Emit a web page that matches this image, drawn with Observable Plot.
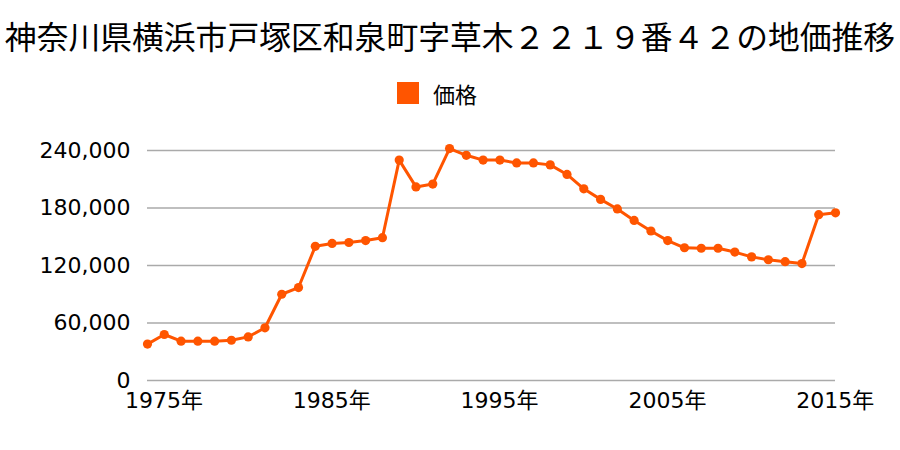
<!DOCTYPE html>
<html>
<head>
<meta charset="utf-8">
<script src="https://cdn.jsdelivr.net/npm/d3@7"></script>
<script src="https://cdn.jsdelivr.net/npm/@observablehq/plot@0.6"></script>
<style>
  body { margin: 0; background: #fff; width: 900px; height: 450px; position: relative; overflow: hidden; }
  #title { position: absolute; top: 0; left: 0; width: 900px; text-align: center;
           font-family: "Noto Sans CJK JP"; font-size: 31.8px; line-height: 70px; color: #000; white-space: nowrap; }
  #legend { position: absolute; top: 81px; left: 397px; display: flex; align-items: center;
            font-family: "Noto Sans CJK JP"; font-size: 22px; color: #000; height: 23px; }
  #legend .sw { width: 22px; height: 22px; background: #ff5500; margin-right: 14px; }
  #chart { position: absolute; left: 0; top: 120px; }
</style>
</head>
<body>
<div id="title">神奈川県横浜市戸塚区和泉町字草木２２１９番４２の地価推移</div>
<div id="legend"><span class="sw"></span><span>価格</span></div>
<div id="chart"></div>
<script>
const years = [1975, 1976, 1977, 1978, 1979, 1980, 1981, 1982, 1983, 1984,
               1985, 1986, 1987, 1988, 1989, 1990, 1991, 1992, 1993, 1994,
               1995, 1996, 1997, 1998, 1999, 2000, 2001, 2002, 2003, 2004,
               2005, 2006, 2007, 2008, 2009, 2010, 2011, 2012, 2013, 2014,
               2015, 2016];
const prices = [38000, 48000, 41000, 41000, 41000, 42000, 45500, 55000, 90000, 97000,
                140000, 143000, 144000, 146000, 149000, 230000, 202000, 205000, 242000, 235000,
                230000, 230000, 227000, 227000, 225000, 215000, 200000, 189000, 179000, 167000,
                156000, 146000, 138500, 138000, 138000, 134000, 129000, 126000, 124000, 122000,
                173000, 175000];
const xTicks = [1975, 1985, 1995, 2005, 2015];
const xTickLabels = ["1975年", "1985年", "1995年", "2005年", "2015年"];
const yTicks = [0, 60000, 120000, 180000, 240000];
const seriesName = "価格";

const data = years.map((y, i) => ({year: y, price: prices[i], series: seriesName}));
const color = "#ff5500";

const chart = Plot.plot({
  width: 900,
  height: 310,
  marginLeft: 147,
  marginRight: 65,
  marginTop: 30,
  marginBottom: 50,
  style: { fontFamily: "DejaVu Sans, 'Noto Sans CJK JP'", fontSize: "22px", color: "#000", background: "#fff" },
  x: { domain: [1975, 2016] },
  y: { domain: [0, 240000] },
  marks: [
    Plot.gridY(yTicks, { stroke: "#aaaaaa", strokeOpacity: 1, strokeWidth: 1.3 }),
    Plot.axisY(yTicks, { tickSize: 0, tickPadding: 17, label: null, fontSize: 22,
                         tickFormat: d => d3.format(",")(d) }),
    Plot.axisX(xTicks, { tickSize: 0, tickPadding: 12, label: null, fontSize: 22, dx: 16.5,
                         tickFormat: d => xTickLabels[xTicks.indexOf(d)] }),
    Plot.line(data, { x: "year", y: "price", stroke: color, strokeWidth: 3 }),
    Plot.dot(data, { x: "year", y: "price", fill: color, r: 4.6, stroke: "none" })
  ]
});
document.getElementById("chart").appendChild(chart);
</script>
</body>
</html>
